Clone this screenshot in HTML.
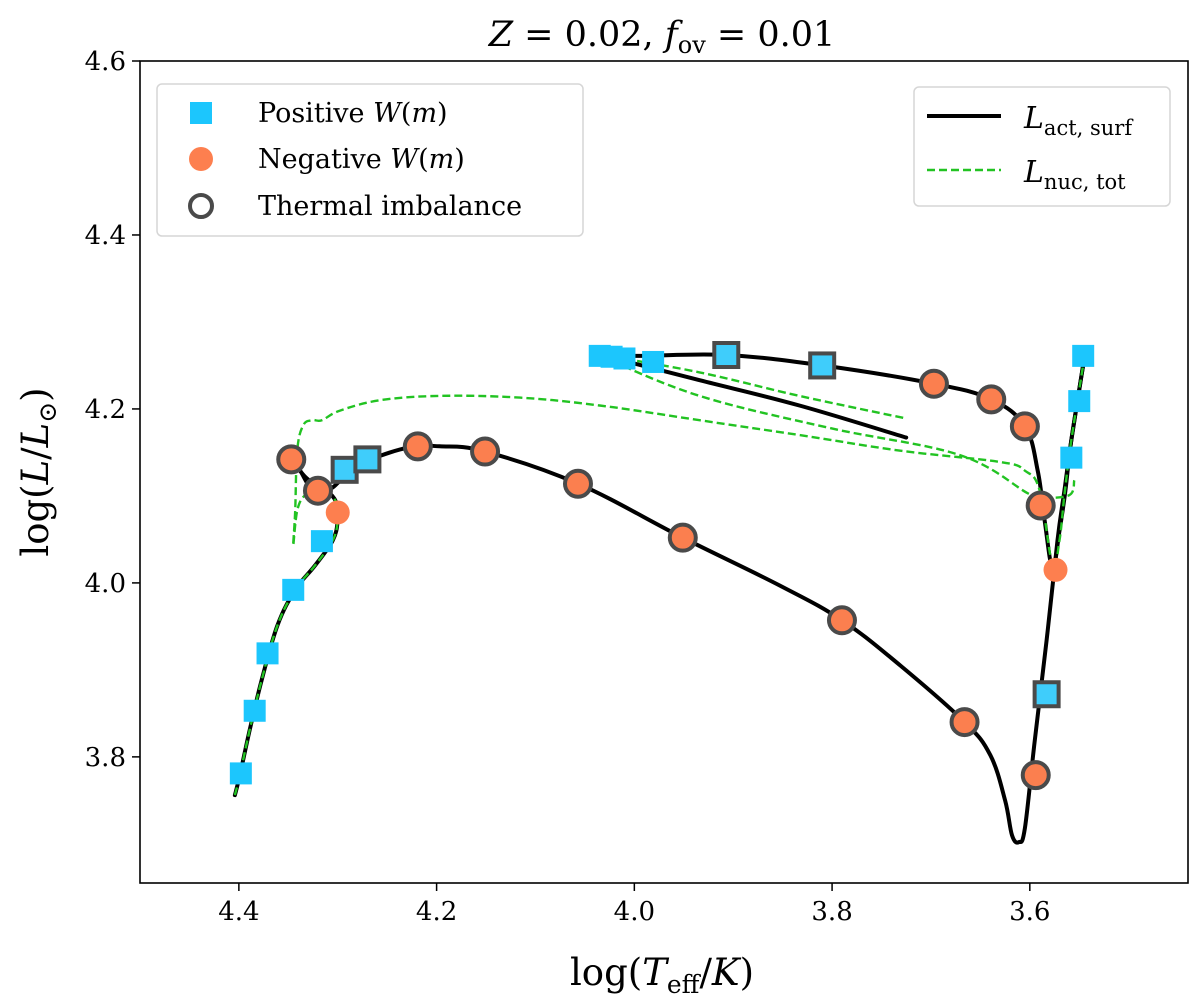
<!DOCTYPE html>
<html><head><meta charset="utf-8"><style>
html,body{margin:0;padding:0;background:#fff;}
svg{display:block;font-family:"DejaVu Serif","Liberation Serif",serif;}
</style></head><body>
<svg id="chart" width="1200" height="1005" viewBox="0 0 1200 1005" xmlns="http://www.w3.org/2000/svg">
<g id="plot"></g>
</svg>
<script>
const xTicks=[4.4,4.2,4.0,3.8,3.6];
const yTicks=[3.8,4.0,4.2,4.4,4.6];
const posX=[4.398,4.384,4.371,4.345,4.316,4.293,4.270,4.035,4.023,4.010,3.981,3.907,3.810,3.546,3.550,3.558,3.583];
const posY=[3.781,3.853,3.919,3.992,4.048,4.130,4.142,4.261,4.260,4.258,4.254,4.262,4.250,4.261,4.209,4.144,3.872];
const posEdge=[0,0,0,0,0,1,1,0,0,0,0,1,1,0,0,0,1];
const negX=[4.347,4.320,4.300,4.219,4.151,4.057,3.951,3.790,3.666,3.594,3.697,3.639,3.605,3.589,3.574];
const negY=[4.142,4.106,4.081,4.157,4.151,4.114,4.052,3.957,3.840,3.779,4.229,4.211,4.180,4.089,4.015];
const negEdge=[1,1,0,1,1,1,1,1,1,1,1,1,1,1,0];
const actAX=[4.404,4.399,4.389,4.377,4.361,4.343,4.323,4.305,4.300,4.301,4.308,4.320,4.333,4.346,4.338,4.328,4.318,4.306,4.293,4.268,4.227,4.197,4.151,4.057,3.951,3.853,3.790,3.731,3.666,3.640,3.625,3.618,3.611,3.605,3.595,3.583,3.572,3.565,3.558,3.544];
const actAY=[3.756,3.779,3.831,3.888,3.951,3.992,4.020,4.049,4.072,4.091,4.103,4.111,4.122,4.141,4.129,4.110,4.104,4.109,4.122,4.141,4.156,4.157,4.151,4.114,4.052,3.997,3.957,3.905,3.840,3.802,3.750,3.710,3.702,3.718,3.819,3.934,4.049,4.106,4.164,4.265];
const actBX=[3.725,3.833,3.934,4.020,4.033,3.994,3.907,3.810,3.697,3.639,3.605,3.592,3.585,3.577,3.570,3.564,3.558,3.544];
const actBY=[4.167,4.204,4.233,4.258,4.262,4.261,4.262,4.250,4.229,4.211,4.180,4.129,4.072,4.017,4.060,4.106,4.164,4.265];
const nucAX=[4.404,4.399,4.389,4.377,4.361,4.343,4.323,4.305,4.300,4.301,4.308,4.320,4.333,4.341,4.345,4.343,4.341,4.335,4.326,4.316,4.298,4.257,4.197,4.116,4.035,3.934,3.833,3.731,3.630,3.605,3.590,3.577,3.570,3.565,3.558,3.544];
const nucAY=[3.756,3.779,3.831,3.888,3.951,3.992,4.020,4.049,4.072,4.091,4.101,4.106,4.101,4.083,4.043,4.083,4.152,4.181,4.187,4.187,4.198,4.210,4.215,4.213,4.204,4.187,4.170,4.152,4.139,4.129,4.106,4.020,4.049,4.101,4.164,4.265];
const nucBX=[4.033,3.934,3.833,3.725];
const nucBY=[4.262,4.242,4.215,4.189];
const nucCX=[4.033,3.934,3.802,3.671,3.602,3.588,3.560,3.555];
const nucCY=[4.260,4.215,4.178,4.147,4.103,4.098,4.101,4.118];

const L=140,R=1188,T=61,B=883;
const X0=4.5,X1=3.44,Y0=3.655,Y1=4.6;
function sx(v){return L+(X0-v)/(X0-X1)*(R-L);}
function sy(v){return B-(v-Y0)/(Y1-Y0)*(B-T);}
const NS="http://www.w3.org/2000/svg";
const g=document.getElementById('plot');
function mk(tag,attrs,parent){const e=document.createElementNS(NS,tag);for(const k in attrs)e.setAttribute(k,attrs[k]);(parent||g).appendChild(e);return e;}
function smooth(xs,ys){
  const p=xs.map((x,i)=>[sx(x),sy(ys[i])]);
  let d='M'+p[0][0].toFixed(1)+','+p[0][1].toFixed(1);
  for(let i=0;i<p.length-1;i++){
    const p0=p[Math.max(0,i-1)],p1=p[i],p2=p[i+1],p3=p[Math.min(p.length-1,i+2)];
    const t=0.18;
    const c1=[p1[0]+(p2[0]-p0[0])*t,p1[1]+(p2[1]-p0[1])*t];
    const c2=[p2[0]-(p3[0]-p1[0])*t,p2[1]-(p3[1]-p1[1])*t];
    d+=' C'+c1[0].toFixed(1)+','+c1[1].toFixed(1)+' '+c2[0].toFixed(1)+','+c2[1].toFixed(1)+' '+p2[0].toFixed(1)+','+p2[1].toFixed(1);
  }
  return d;
}

let fr=mk('rect',{x:L,y:T,width:R-L,height:B-T,fill:'none',stroke:'#000','stroke-width':1.6});



xTicks.forEach(v=>{
  let t=mk('line',{x1:sx(v),x2:sx(v),y1:B,y2:B+8,stroke:'#000','stroke-width':1.5});
  
  
  let l=mk('text',{x:sx(v),y:B+37,'text-anchor':'middle','font-size':26});
  l.textContent=v.toFixed(1);
  
  
});
yTicks.forEach(v=>{
  let t=mk('line',{x1:L-8,x2:L,y1:sy(v),y2:sy(v),stroke:'#000','stroke-width':1.5});
  
  
  let l=mk('text',{x:L-14,y:sy(v)+9,'text-anchor':'end','font-size':26});
  l.textContent=v.toFixed(1);
  
  
});

[[actAX,actAY,'act-surf-line-main'],[actBX,actBY,'act-surf-line-loop']].forEach(([xs,ys,n])=>{
  let p=mk('path',{d:smooth(xs,ys),fill:'none',stroke:'#000','stroke-width':4,'stroke-linejoin':'round','stroke-linecap':'round'});
  
  
});
[[nucAX,nucAY,'nuc-tot-line-main'],[nucBX,nucBY,'nuc-tot-line-upper'],[nucCX,nucCY,'nuc-tot-line-lower']].forEach(([xs,ys,n])=>{
  let p=mk('path',{d:smooth(xs,ys),fill:'none',stroke:'#22c322','stroke-width':2.4,'stroke-dasharray':'8,4','stroke-linejoin':'round'});
  
  
});

posX.forEach((x,i)=>{
  const cx=sx(x),cy=sy(posY[i]);
  let r=mk('rect',posEdge[i]?{x:cx-12,y:cy-12,width:24,height:24,fill:'#3fcdfb',stroke:'#4a4a4a','stroke-width':4}:{x:cx-11,y:cy-11,width:22,height:22,fill:'#1cc6fd'});
  
  
});
negX.forEach((x,i)=>{
  const cx=sx(x),cy=sy(negY[i]);
  let c=mk('circle',negEdge[i]?{cx:cx,cy:cy,r:13,fill:'#fb7f4f',stroke:'#4a4a4a','stroke-width':4}:{cx:cx,cy:cy,r:12,fill:'#fd7f4f'});
  
  
});
</script>
<svg style="position:absolute;left:0;top:0" width="1200" height="1005">
<text x="662" y="46" text-anchor="middle" font-size="35" font-family="DejaVu Serif, serif"><tspan font-style="italic">Z</tspan> = 0.02, <tspan font-style="italic">f</tspan><tspan font-size="24" dy="7">ov</tspan><tspan dy="-7"> = 0.01</tspan></text>
<text x="662" y="985" text-anchor="middle" font-size="37" font-family="DejaVu Serif, serif">log(<tspan font-style="italic">T</tspan><tspan font-size="25" dy="8">eff</tspan><tspan dy="-8">/</tspan><tspan font-style="italic">K</tspan>)</text>
<text transform="translate(48,472) rotate(-90)" text-anchor="middle" font-size="37" font-family="DejaVu Serif, serif">log(<tspan font-style="italic">L</tspan>/<tspan font-style="italic">L</tspan><tspan font-size="25" dy="8">⊙</tspan><tspan dy="-8">)</tspan></text>
<g>
<rect x="157" y="84" width="426" height="152" rx="5" fill="#fff" stroke="#d6d6d6" stroke-width="1.5"/>
<rect x="190" y="102" width="22" height="22" fill="#1cc6fd"/>
<text x="258" y="122" font-size="27" font-family="DejaVu Serif, serif">Positive <tspan font-style="italic">W</tspan>(<tspan font-style="italic">m</tspan>)</text>
<circle cx="201" cy="159" r="12" fill="#fd7f4f"/>
<text x="258" y="168" font-size="27" font-family="DejaVu Serif, serif">Negative <tspan font-style="italic">W</tspan>(<tspan font-style="italic">m</tspan>)</text>
<circle cx="201" cy="206" r="11" fill="none" stroke="#4a4a4a" stroke-width="4"/>
<text x="258" y="215" font-size="27" font-family="DejaVu Serif, serif">Thermal imbalance</text>
</g>
<g>
<rect x="914" y="87" width="256" height="119" rx="5" fill="#fff" stroke="#d6d6d6" stroke-width="1.5"/>
<line x1="927" y1="116" x2="1001" y2="116" stroke="#000" stroke-width="4"/>
<text x="1024" y="128" font-size="30" font-family="DejaVu Serif, serif"><tspan font-style="italic">L</tspan><tspan font-size="21" dy="7">act, surf</tspan></text>
<line x1="927" y1="170" x2="1001" y2="170" stroke="#22c322" stroke-width="2.4" stroke-dasharray="8,4"/>
<text x="1024" y="182" font-size="30" font-family="DejaVu Serif, serif"><tspan font-style="italic">L</tspan><tspan font-size="21" dy="7">nuc, tot</tspan></text>
</g>
</svg>
</body></html>
